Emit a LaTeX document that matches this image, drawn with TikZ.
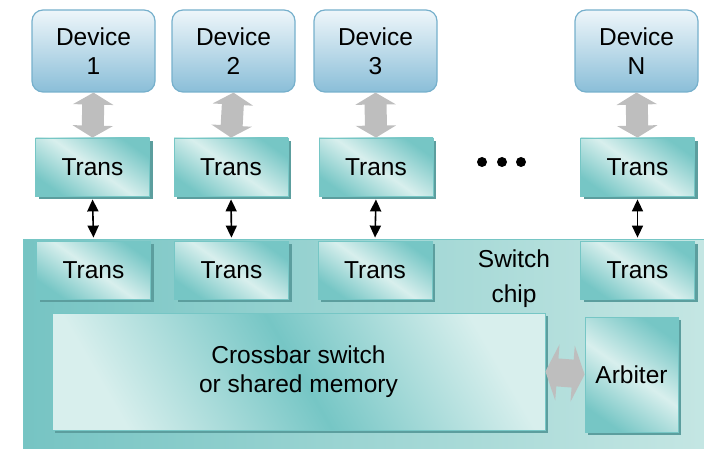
\documentclass[tikz,border=0pt]{standalone}
\usepackage{fontspec}
\setmainfont{Liberation Sans}
\usetikzlibrary{arrows.meta,shadows}
\definecolor{devicetop}{RGB}{238,246,250}
\definecolor{devicebottom}{RGB}{138,190,216}
\definecolor{deviceline}{RGB}{118,176,204}
\definecolor{transdark}{RGB}{118,198,197}
\definecolor{translight}{RGB}{216,239,237}
\definecolor{transshadow}{RGB}{92,158,158}
\definecolor{chipleft}{RGB}{118,196,195}
\definecolor{chipright}{RGB}{196,230,227}
\definecolor{linkgray}{RGB}{190,190,190}
\tikzstyle{label} = [inner sep=0pt, align=center, font=\fontsize{24.5}{29}\selectfont]
\tikzstyle{device} = [label, draw=deviceline, line width=1.2pt, rounded corners=11pt,
    top color=devicetop, bottom color=devicebottom,
    minimum width=123pt, minimum height=82pt]
\tikzstyle{trans} = [label, draw=transdark, line width=0.8pt,
    top color=transdark, bottom color=transdark, middle color=translight, shading angle=-35,
    drop shadow={shadow xshift=3pt, shadow yshift=-3pt, fill=transshadow, opacity=1},
    minimum width=114pt, minimum height=58pt]
\tikzstyle{chip} = [draw=transdark, line width=0.8pt, left color=chipleft, right color=chipright]
\tikzstyle{biglink} = [linkgray, line width=22pt,
    {Triangle[width=40pt,length=12pt]}-{Triangle[width=40pt,length=12pt]}]
\tikzstyle{link} = [black, line width=1.6pt,
    {Triangle[width=11pt,length=12pt]}-{Triangle[width=11pt,length=12pt]},
    shorten <=3pt, shorten >=3pt]

\begin{document}
\begin{tikzpicture}[x=1pt, y=-1pt]
    \useasboundingbox (0, 0) rectangle (704, 449);

    % switch chip
    \node[chip, minimum width=681pt, minimum height=212pt, inner sep=0pt] (chip) at (363.5, 345) {};
    \node[label] (chiplabel) at (514, 279) {Switch\\[6pt]chip};

    % devices
    \node[device] (dev1) at (93.5, 51) {Device\\1};
    \node[device] (dev2) at (233.5, 51) {Device\\2};
    \node[device] (dev3) at (375.5, 51) {Device\\3};
    \node[device] (devN) at (636.5, 51) {Device\\N};

    % transceivers, device side
    \node[trans] (tr1) at (92.5, 167) {Trans};
    \node[trans] (tr2) at (231, 167) {Trans};
    \node[trans] (tr3) at (376, 167) {Trans};
    \node[trans] (trN) at (637.5, 167) {Trans};

    \fill (482, 162) circle (5) (502, 162) circle (5) (521, 162) circle (5);

    % transceivers, chip side
    \node[trans] (st1) at (93.5, 270) {Trans};
    \node[trans] (st2) at (231.5, 270) {Trans};
    \node[trans] (st3) at (375, 270) {Trans};
    \node[trans] (stN) at (637.5, 270) {Trans};

    % crossbar and arbiter
    \node[trans, top color=translight, bottom color=translight, middle color=transdark,
        shading angle=-60, minimum width=493pt, minimum height=117pt] (xbar) at (298.5, 371.5)
        {Crossbar switch\\or shared memory};
    \node[trans, minimum width=93pt, minimum height=115pt] (arb) at (631.5, 374.5) {Arbiter};

    % links
    \draw[biglink] (dev1.south) -- (tr1.north);
    \draw[biglink] (dev2.south) -- (tr2.north);
    \draw[biglink] (dev3.south) -- (tr3.north);
    \draw[biglink] (devN.south) -- (trN.north);

    \draw[link] (tr1.south) -- (st1.north);
    \draw[link] (tr2.south) -- (st2.north);
    \draw[link] (tr3.south) -- (st3.north);
    \draw[link] (trN.south) -- (stN.north);

    \draw[biglink, line width=28pt,
        {Triangle[width=56pt,length=12pt]}-{Triangle[width=56pt,length=12pt]}]
        (xbar.east) -- (arb.west);
\end{tikzpicture}
\end{document}
